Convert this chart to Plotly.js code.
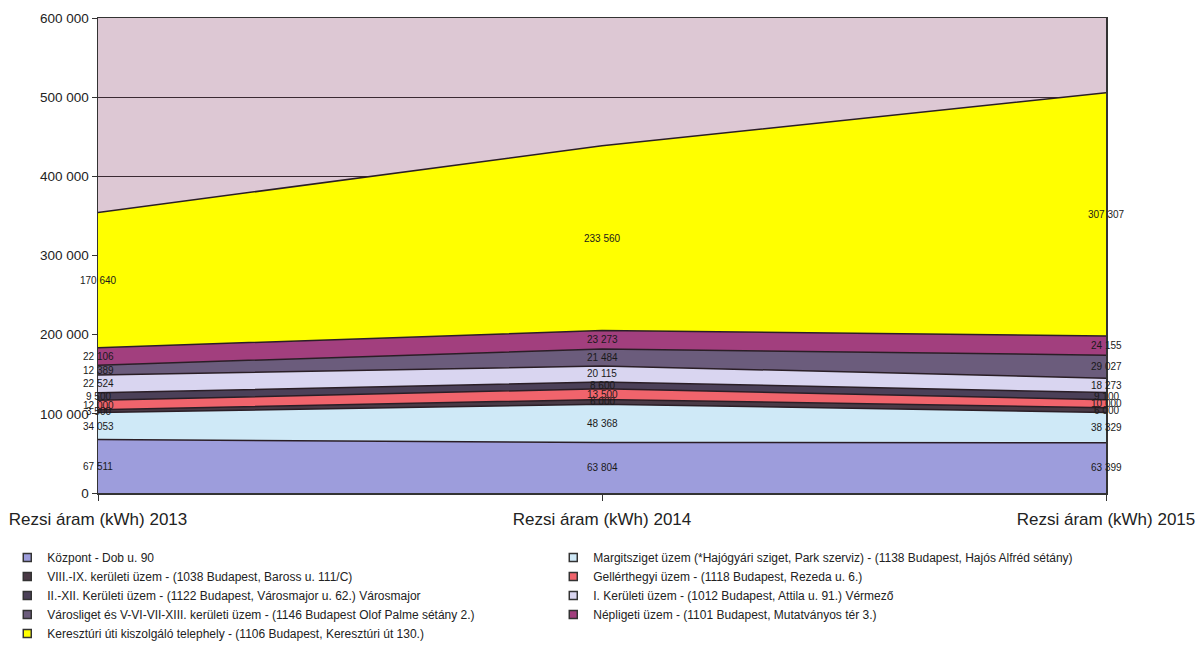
<!DOCTYPE html>
<html>
<head>
<meta charset="utf-8">
<script src="https://cdn.plot.ly/plotly-3.0.1.min.js"></script>
<style>
  html, body { margin: 0; padding: 0; background: #ffffff; }
  #chart { width: 1202px; height: 655px; }
</style>
</head>
<body>
<div id="chart"></div>
<script>
// ---- data ----
const categories = ['Rezsi áram (kWh) 2013', 'Rezsi áram (kWh) 2014', 'Rezsi áram (kWh) 2015'];

const seriesNames = [
  'Központ - Dob u. 90',
  'Margitsziget üzem (*Hajógyári sziget, Park szerviz) - (1138 Budapest, Hajós Alfréd sétány)',
  'VIII.-IX. kerületi üzem - (1038 Budapest, Baross u. 111/C)',
  'Gellérthegyi üzem - (1118 Budapest, Rezeda u. 6.)',
  'II.-XII. Kerületi üzem - (1122 Budapest, Városmajor u. 62.) Városmajor',
  'I. Kerületi üzem - (1012 Budapest, Attila u. 91.) Vérmező',
  'Városliget és V-VI-VII-XIII. kerületi üzem - (1146 Budapest Olof Palme sétány 2.)',
  'Népligeti üzem - (1101 Budapest, Mutatványos tér 3.)',
  'Keresztúri úti kiszolgáló telephely - (1106 Budapest, Keresztúri út 130.)'
];

const kozpont      = [67511, 63804, 63399];
const margitsziget = [34053, 48368, 38329];
const viiiIx       = [3500, 6000, 6000];
const gellerthegyi = [12000, 13500, 10000];
const iiXii        = [9500, 8600, 9100];
const iKeruleti    = [22524, 20115, 18273];
const varosliget   = [12389, 21484, 29027];
const nepligeti    = [22106, 23273, 24155];
const kereszturi   = [170640, 233560, 307307];

const seriesValues = [kozpont, margitsziget, viiiIx, gellerthegyi, iiXii, iKeruleti, varosliget, nepligeti, kereszturi];

const seriesColors = ['#9d9ddc', '#cfe9f7', '#4a3a46', '#f0646c', '#4b4058', '#d9d5f0', '#6b5c7c', '#a23f7e', '#ffff00'];

// ---- helpers ----
function fmt(v) {
  return String(v).replace(/\B(?=(\d{3})+(?!\d))/g, ' ');
}

const traces = [];
const annotations = [];
const cum = categories.map(() => 0);

seriesValues.forEach((vals, i) => {
  traces.push({
    type: 'scatter',
    mode: 'lines',
    x: categories,
    y: vals,
    stackgroup: 'one',
    name: seriesNames[i],
    legendgroup: 'g' + i,
    showlegend: false,
    line: { color: '#2a1e26', width: 1.5 },
    fillcolor: seriesColors[i],
    hoverinfo: 'skip'
  });
  // legend swatch trace (no data)
  traces.push({
    type: 'scatter',
    mode: 'markers',
    x: [null],
    y: [null],
    name: seriesNames[i],
    legendgroup: 'g' + i,
    showlegend: true,
    marker: { symbol: 'square', size: 8, color: seriesColors[i], line: { color: '#333333', width: 1.5 } }
  });
  vals.forEach((v, j) => {
    annotations.push({
      x: categories[j],
      y: cum[j] + v / 2,
      xref: 'x',
      yref: 'y',
      text: fmt(v),
      showarrow: false,
      xanchor: 'center',
      yanchor: 'middle',
      font: { family: 'Liberation Sans, Arial, sans-serif', size: 10, color: '#1a1a1a' }
    });
    cum[j] += v;
  });
});

const layout = {
  width: 1202,
  height: 655,
  margin: { l: 98, r: 96, t: 18, b: 162, autoexpand: false },
  paper_bgcolor: '#ffffff',
  plot_bgcolor: '#ddc8d4',
  separators: ', ',
  font: { family: 'Liberation Sans, Arial, sans-serif', color: '#222222' },
  showlegend: true,
  xaxis: {
    type: 'category',
    range: [0, 2],
    showgrid: false,
    zeroline: false,
    showline: true,
    linecolor: '#333333',
    linewidth: 1.5,
    mirror: true,
    ticks: 'outside',
    ticklen: 6,
    tickcolor: '#333333',
    ticklabelstandoff: 4,
    tickfont: { size: 17, color: '#222222' },
    fixedrange: true
  },
  yaxis: {
    range: [0, 600000],
    dtick: 100000,
    tickformat: ',d',
    showgrid: true,
    gridcolor: '#3a2a32',
    gridwidth: 1.2,
    zeroline: false,
    showline: true,
    linecolor: '#333333',
    linewidth: 1.5,
    mirror: true,
    ticks: 'outside',
    ticklen: 5,
    tickcolor: '#333333',
    tickfont: { size: 13.5, color: '#222222' },
    fixedrange: true
  },
  legend: {
    orientation: 'h',
    traceorder: 'normal',
    x: -0.09,
    xanchor: 'left',
    y: -0.105,
    yanchor: 'top',
    entrywidth: 501,
    entrywidthmode: 'pixels',
    font: { size: 12, color: '#222222' },
    bgcolor: 'rgba(0,0,0,0)'
  },
  annotations: annotations
};

Plotly.newPlot('chart', traces, layout, { displayModeBar: false, staticPlot: true });
</script>
</body>
</html>
